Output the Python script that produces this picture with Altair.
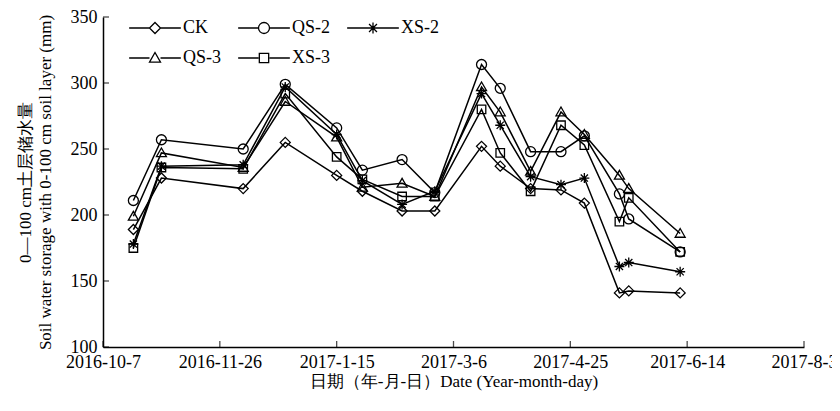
import altair as alt
import pandas as pd

dates = ["2016-10-20", "2016-11-01", "2016-12-06", "2016-12-24", "2017-01-15",
         "2017-01-26", "2017-02-12", "2017-02-26", "2017-03-18", "2017-03-26",
         "2017-04-08", "2017-04-21", "2017-05-01", "2017-05-16", "2017-05-20",
         "2017-06-11"]
series = ["CK", "QS-2", "XS-2", "QS-3", "XS-3"]
ck = [189, 228, 220, 255, 230, 218, 203, 203, 252, 237, 220, 219, 209, 141, 142.5, 141]
qs2 = [211, 257, 250, 299, 266, 234, 242, 217, 314, 296, 248, 248, 260, 216, 197, 172]
xs2 = [178, 237, 238, 297, 261, 226, 208, 218, 292, 268, 229, 223, 228, 161, 164, 157]
qs3 = [199, 247, 236, 286, 259, 221, 224, 214, 297, 278, 233, 278, 261, 230, 220, 186]
xs3 = [175, 236, 235, 292, 244, 227, 214, 214, 280, 247, 218, 268, 253, 195, 213, 172]
x_ticks = ["2016-10-07", "2016-11-26", "2017-01-15", "2017-03-06", "2017-04-25",
           "2017-06-14", "2017-08-03"]
y_ticks = [100, 150, 200, 250, 300, 350]

values = {"CK": ck, "QS-2": qs2, "XS-2": xs2, "QS-3": qs3, "XS-3": xs3}
rows = []
for s in series:
    for d, v in zip(dates, values[s]):
        rows.append({"date": d + "T00:00:00", "series": s, "value": v})
df = pd.DataFrame(rows)

FONT = "Liberation Serif"

diamond = "M0,-1L1,0L0,1L-1,0Z"
circle = "M1,0A1,1 0 1,1 -1,0A1,1 0 1,1 1,0Z"
star = "M0,-1L0,1M-1,0L1,0M-0.72,-0.72L0.72,0.72M-0.72,0.72L0.72,-0.72"
triangle = "M0,-1L1,0.75L-1,0.75Z"
square = "M-0.85,-0.85L0.85,-0.85L0.85,0.85L-0.85,0.85Z"
chart_shapes = [diamond, circle, star, triangle, square]
seg = "M-4.7,0L-1,0M1,0L4.7,0"
legend_shapes = [seg + diamond, seg + circle, "M-4.7,0L4.7,0" + star,
                 seg + triangle, seg + square]

x_scale = alt.Scale(domain=[alt.DateTime(year=2016, month=10, date=7),
                            alt.DateTime(year=2017, month=8, date=3)])
y_scale = alt.Scale(domain=[100, 350])

x_axis = alt.Axis(values=[alt.DateTime(year=int(t[:4]), month=int(t[5:7]), date=int(t[8:10]))
                          for t in x_ticks],
                  format="%Y-%-m-%-d", title="日期（年-月-日）Date (Year-month-day)",
                  ticks=False, tickSize=0, grid=False, labelPadding=6,
                  labelFontSize=18, titleFontSize=17, titleY=26, titleBaseline="top",
                  domainColor="black", domainWidth=1.5, labelColor="black",
                  titleColor="black", titleFontWeight="normal", labelFlush=False,
                  labelOverlap=False)
y_axis = alt.Axis(values=y_ticks, title=["0—100 cm土层储水量",
                                          "Soil water storage with 0-100 cm soil layer (mm)"],
                  ticks=False, tickSize=0, grid=False, labelPadding=6,
                  labelFontSize=18, titleFontSize=17, titlePadding=16,
                  titleLineHeight=20, domainColor="black", domainWidth=1.5,
                  labelColor="black", titleColor="black", titleFontWeight="normal")

base = alt.Chart(df)

lines = base.mark_line(color="black", strokeWidth=1.5).encode(
    x=alt.X("date:T", scale=x_scale, axis=x_axis),
    y=alt.Y("value:Q", scale=y_scale, axis=y_axis),
    detail="series:N",
)

points = base.mark_point(filled=False, color="black", strokeWidth=1.3, size=100,
                         opacity=1).encode(
    x=alt.X("date:T", scale=x_scale),
    y=alt.Y("value:Q", scale=y_scale),
    shape=alt.Shape("series:N", scale=alt.Scale(domain=series, range=chart_shapes),
                    legend=None),
)

legend_layer = base.mark_point(filled=False, color="black", strokeWidth=1.3,
                               size=121, opacity=0).encode(
    x=alt.X("date:T", scale=x_scale),
    y=alt.Y("value:Q", scale=y_scale),
    shape=alt.Shape("series:N", scale=alt.Scale(domain=series, range=legend_shapes),
                    legend=alt.Legend(title=None, orient="none", legendX=43, legendY=2,
                                      columns=3, direction="horizontal",
                                      symbolSize=121, symbolOpacity=1,
                                      symbolStrokeColor="black", symbolStrokeWidth=1.3,
                                      symbolFillColor="transparent",
                                      labelOffset=19, columnPadding=13,
                                      rowPadding=12, labelFontSize=18, labelFont=FONT,
                                      labelColor="black", labelLimit=200, padding=0)),
)

xt_df = pd.DataFrame({"date": [t + "T00:00:00" for t in x_ticks], "yv": [100] * len(x_ticks)})
yt_df = pd.DataFrame({"date": [x_ticks[0] + "T00:00:00"] * len(y_ticks), "yv": y_ticks})

xticks = alt.Chart(xt_df).mark_tick(orient="vertical", size=6, thickness=1.3,
                                    color="black", yOffset=-3).encode(
    x=alt.X("date:T", scale=x_scale), y=alt.Y("yv:Q", scale=y_scale))
yticks = alt.Chart(yt_df).mark_tick(orient="horizontal", size=6, thickness=1.3,
                                    color="black", xOffset=3).encode(
    x=alt.X("date:T", scale=x_scale), y=alt.Y("yv:Q", scale=y_scale))

chart = alt.layer(xticks, yticks, lines, points, legend_layer).resolve_scale(
    shape="independent"
).properties(
    width=701, height=330,
    padding={"left": 95, "top": 9, "right": 28, "bottom": 50},
    autosize=alt.AutoSizeParams(type="none"),
).configure(font=FONT).configure_view(stroke=None).configure_axis(
    labelFont=FONT, titleFont=FONT)

chart.save("out.html", embed_options={"renderer": "svg", "actions": False})
